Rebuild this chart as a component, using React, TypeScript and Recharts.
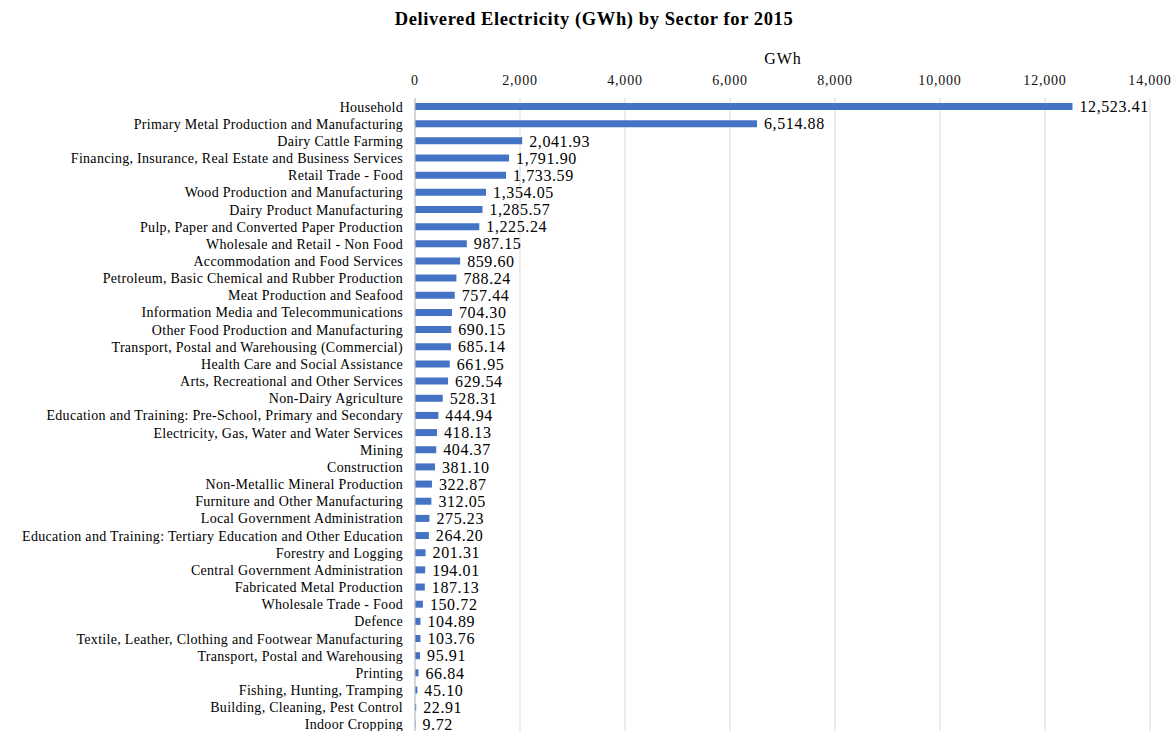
import { BarChart, Bar, XAxis, YAxis, CartesianGrid, LabelList } from 'recharts'

const sectors = [
  'Household',
  'Primary Metal Production and Manufacturing',
  'Dairy Cattle Farming',
  'Financing, Insurance, Real Estate and Business Services',
  'Retail Trade - Food',
  'Wood Production and Manufacturing',
  'Dairy Product Manufacturing',
  'Pulp, Paper and Converted Paper Production',
  'Wholesale and Retail - Non Food',
  'Accommodation and Food Services',
  'Petroleum, Basic Chemical and Rubber Production',
  'Meat Production and Seafood',
  'Information Media and Telecommunications',
  'Other Food Production and Manufacturing',
  'Transport, Postal and Warehousing (Commercial)',
  'Health Care and Social Assistance',
  'Arts, Recreational and Other Services',
  'Non-Dairy Agriculture',
  'Education and Training: Pre-School, Primary and Secondary',
  'Electricity, Gas, Water and Water Services',
  'Mining',
  'Construction',
  'Non-Metallic Mineral Production',
  'Furniture and Other Manufacturing',
  'Local Government Administration',
  'Education and Training: Tertiary Education and Other Education',
  'Forestry and Logging',
  'Central Government Administration',
  'Fabricated Metal Production',
  'Wholesale Trade - Food',
  'Defence',
  'Textile, Leather, Clothing and Footwear Manufacturing',
  'Transport, Postal and Warehousing',
  'Printing',
  'Fishing, Hunting, Tramping',
  'Building, Cleaning, Pest Control',
  'Indoor Cropping',
]

const gwh = [
  12523.41, 6514.88, 2041.93, 1791.9, 1733.59, 1354.05, 1285.57, 1225.24, 987.15, 859.6,
  788.24, 757.44, 704.3, 690.15, 685.14, 661.95, 629.54, 528.31, 444.94, 418.13,
  404.37, 381.1, 322.87, 312.05, 275.23, 264.2, 201.31, 194.01, 187.13, 150.72,
  104.89, 103.76, 95.91, 66.84, 45.1, 22.91, 9.72,
]

const xTicks = [0, 2000, 4000, 6000, 8000, 10000, 12000, 14000]

const data = sectors.map((s, i) => ({ sector: s, value: gwh[i] }))

const font = '"Liberation Serif", "DejaVu Serif", serif'
const fmt = (v: number) =>
  v.toLocaleString('en-US', { minimumFractionDigits: 2, maximumFractionDigits: 2 })

export default function App() {
  return (
    <div
      style={{
        position: 'fixed',
        top: 0,
        left: 0,
        width: 1174,
        height: 731,
        overflow: 'hidden',
        background: '#fff',
        fontFamily: font,
      }}
    >
      <div
        style={{
          position: 'absolute',
          top: 9,
          left: 0,
          width: 1188,
          textAlign: 'center',
          fontSize: 18.5,
          letterSpacing: 0.6,
          fontWeight: 'bold',
          color: '#000',
        }}
      >
        Delivered Electricity (GWh) by Sector for 2015
      </div>
      <div
        style={{
          position: 'absolute',
          top: 50,
          left: 758,
          width: 50,
          textAlign: 'center',
          fontSize: 16,
          letterSpacing: 1,
        }}
      >
        GWh
      </div>
      <BarChart
        width={1174}
        height={738}
        data={data}
        layout="vertical"
        margin={{ top: 68, right: 24, bottom: 5, left: 0 }}
        barCategoryGap={10}
      >
        <CartesianGrid horizontal={false} stroke="#d9d9d9" />
        <XAxis
          type="number"
          orientation="top"
          domain={[0, 14000]}
          ticks={xTicks}
          height={30}
          axisLine={false}
          tickLine={false}
          tickSize={0}
          tickMargin={13}
          tickFormatter={(v: number) => v.toLocaleString('en-US')}
          tick={{ fill: '#111', fontSize: 14, fontFamily: font, letterSpacing: 0.8 }}
        />
        <YAxis
          type="category"
          dataKey="sector"
          width={415}
          interval={0}
          tickLine={false}
          tickSize={0}
          tickMargin={12}
          axisLine={{ stroke: '#bfbfbf' }}
          tick={{ fill: '#000', fontSize: 14, fontFamily: font, letterSpacing: 0.3 }}
        />
        <Bar dataKey="value" fill="#4472c4" barSize={7} isAnimationActive={false}>
          <LabelList
            dataKey="value"
            position="right"
            offset={7}
            formatter={(v: number) => fmt(v)}
            style={{ fill: '#000', fontSize: 16, fontFamily: font, letterSpacing: 0.6 }}
          />
        </Bar>
      </BarChart>
    </div>
  )
}
